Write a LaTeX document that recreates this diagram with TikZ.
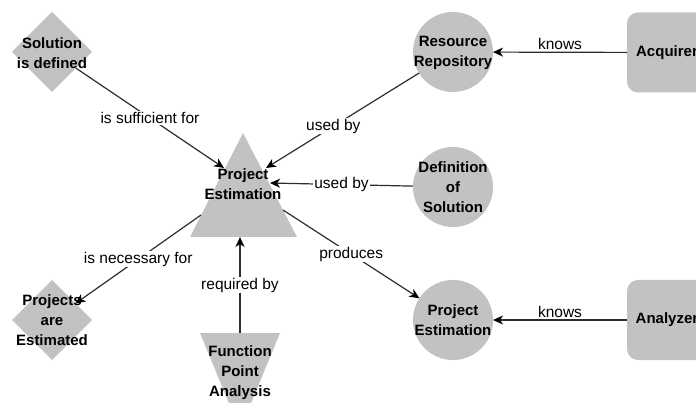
\documentclass[tikz,border=0pt]{standalone}
\usepackage{fontspec}
\setmainfont{Liberation Sans}
\usetikzlibrary{shapes.geometric,arrows.meta}
\definecolor{shapegray}{RGB}{194,194,194}
\definecolor{linegray}{RGB}{45,45,45}
\begin{document}
\begin{tikzpicture}[x=1pt,y=-1pt,
  shapebox/.style={fill=shapegray,draw=none,inner sep=0pt,outer sep=0pt},
  circ/.style={shapebox,circle,minimum size=80pt},
  diam/.style={shapebox,diamond,minimum width=80pt,minimum height=80pt},
  rbox/.style={shapebox,rectangle,rounded corners=11pt,minimum width=80pt,minimum height=80pt},
  txt/.style={font=\bfseries\fontsize{15}{20}\selectfont,align=center,inner sep=0pt},
  conn/.style={draw=linegray,line width=1.2pt,-{Stealth[length=10pt,width=9pt,inset=3pt,color=black]}},
  lbl/.style={font=\fontsize{15.5}{18}\selectfont,fill=white,inner sep=1pt},
  toplbl/.style={font=\fontsize{15.5}{18}\selectfont,inner sep=2pt,above},
]
\useasboundingbox (0,0) rectangle (696,403);
\clip (0,0) rectangle (696,403);
\fill[white] (0,0) rectangle (696,403);

% shapes
\node[diam] (sd) at (52,52) {};
\node[diam] (pa) at (52,320) {};
\node[circ] (rr) at (453,52) {};
\node[circ] (ds) at (453,187) {};
\node[circ] (pe2) at (453,320) {};
\node[rbox] (acq) at (667,52.5) {};
\node[rbox] (ana) at (667,320) {};
\fill[shapegray] (243,133) -- (297,237) -- (190,237) -- cycle;
\fill[shapegray] (200,333) -- (280,333) -- (240,430) -- cycle;

% anchor points on the triangles
\coordinate (peL1) at (224,168);
\coordinate (peR1) at (266,168);
\coordinate (peR2) at (270,183);
\coordinate (peB) at (240,237);
\coordinate (peL2) at (201,215);
\coordinate (peR3) at (283,210);
\coordinate (fpaTop) at (240,333);

% connectors
\draw[conn] (sd) -- (peL1) node[lbl,midway] (l1) {is sufficient for};
\draw[conn] (rr) -- (peR1) node[lbl,pos=0.56] (l2) {used by};
\draw[conn] (ds) -- (peR2) node[lbl,midway] (l3) {used by};
\draw[conn] (peL2) -- (pa) node[lbl,midway] (l4) {is necessary for};
\draw[conn] (fpaTop) -- (peB) node[lbl,midway] (l5) {required by};
\draw[conn] (peR3) -- (pe2) node[lbl,midway] (l6) {produces};
\draw[conn] (acq) -- (rr) node[toplbl,midway] (l7) {knows};
\draw[conn] (ana) -- (pe2) node[toplbl,midway] (l8) {knows};

% texts
\node[txt] (sdt) at (52,53) {Solution\\is defined};
\node[txt] (pat) at (52,320) {Projects\\are\\Estimated};
\node[txt] (rrt) at (453,53) {Resource\\Repository};
\node[txt] (dst) at (453,187) {Definition\\of\\Solution};
\node[txt] (pe2t) at (453,320) {Project\\Estimation};
\node[txt] (pet) at (243,184) {Project\\Estimation};
\node[txt] (fpat) at (240,373) {Function\\Point\\Analysis};
\node[txt] (acqt) at (667,52.5) {Acquirer};
\node[txt] (anat) at (667,320) {Analyzer};
\end{tikzpicture}
\end{document}
